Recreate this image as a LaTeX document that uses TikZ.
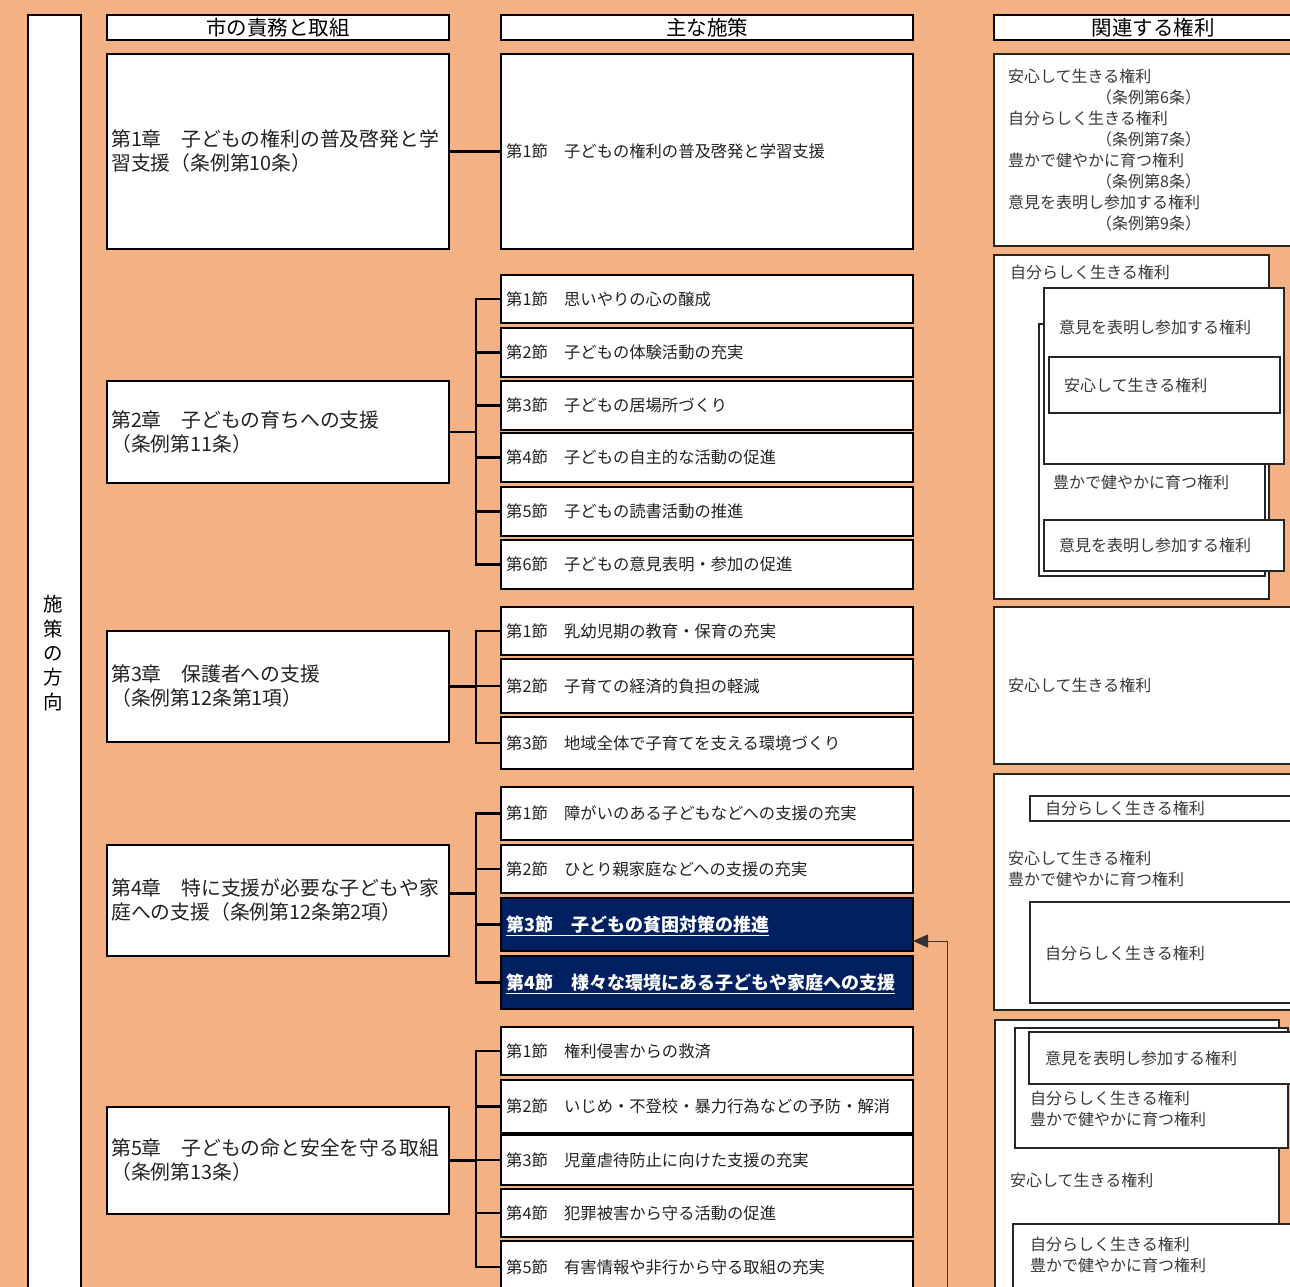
\documentclass[tikz,border=0pt]{standalone}
\usepackage{fontspec}
\setmainfont{Noto Sans CJK JP}
\usetikzlibrary{calc,arrows.meta}
\definecolor{bgc}{HTML}{F4B183}
\definecolor{navy}{HTML}{002060}
\definecolor{txt}{HTML}{222222}
\tikzset{
 mainbox/.style={draw=black, line width=2.4pt, fill=white, inner sep=0pt, outer sep=0pt},
 rbox/.style={draw=black!85, line width=1.3pt, fill=white, inner sep=0pt, outer sep=0pt},
 hibox/.style={draw=black, line width=2.4pt, fill=navy, inner sep=0pt, outer sep=0pt},
 seclbl/.style={anchor=west, inner sep=0pt, text=txt, font=\fontsize{16.3}{21}\selectfont},
 chlbl/.style={anchor=west, inner sep=0pt, text=txt, font=\fontsize{19.8}{24}\selectfont, align=left},
 hilbl/.style={anchor=west, inner sep=0pt, text=white, font=\bfseries\fontsize{18}{20}\selectfont},
 rlbl/.style={anchor=west, inner sep=0pt, text=txt!90, font=\fontsize{16}{21}\selectfont, align=left},
 headlbl/.style={inner sep=0pt, text=black, font=\fontsize{20.5}{24}\selectfont},
 vlbl/.style={inner sep=0pt, text=black, font=\fontsize{19.5}{24.3}\selectfont, align=center},
 conn/.style={draw=black, line width=2.4pt},
 arr/.style={draw=black!80, line width=1pt, -{Triangle[length=15pt,width=13pt]}},
}
\newcommand{\bx}[6]{\node[#6, anchor=north west, minimum width={(#4-#2)*1pt}, minimum height={(#5-#3)*1pt}] (#1) at (#2,#3) {};}
\begin{document}
\begin{tikzpicture}[x=1pt,y=-1pt]
\useasboundingbox (0,0) rectangle (1290,1287);
\fill[bgc] (0,0) rectangle (1290,1287);
\begin{scope}
\clip (0,0) rectangle (1290,1287);
% left direction box
\bx{dir}{28}{15}{81}{1310}{mainbox, line width=2pt}
\node[vlbl] (dirt) at (53,653) {施\\策\\の\\方\\向};
% headers
\bx{h1}{107}{15}{449}{40}{mainbox}
\node[headlbl] (h1t) at (h1) {市の責務と取組};
\bx{h2}{501}{15}{913}{40}{mainbox}
\node[headlbl] (h2t) at (h2) {主な施策};
\bx{h3}{994}{15}{1312}{40}{mainbox}
\node[headlbl] (h3t) at (h3) {関連する権利};
% chapters
\bx{c1}{107}{54}{449}{249}{mainbox}
\node[chlbl] (c1t) at ($(c1.west)+(4,0)$) {第1章　子どもの権利の普及啓発と学\\習支援（条例第10条）};
\bx{c2}{107}{381}{449}{483}{mainbox}
\node[chlbl] (c2t) at ($(c2.west)+(4,0)$) {第2章　子どもの育ちへの支援\\（条例第11条）};
\bx{c3}{107}{631}{449}{742}{mainbox}
\node[chlbl] (c3t) at ($(c3.west)+(4,0)$) {第3章　保護者への支援\\（条例第12条第1項）};
\bx{c4}{107}{845}{449}{956}{mainbox}
\node[chlbl] (c4t) at ($(c4.west)+(4,0)$) {第4章　特に支援が必要な子どもや家\\庭への支援（条例第12条第2項）};
\bx{c5}{107}{1107}{449}{1214}{mainbox}
\node[chlbl] (c5t) at ($(c5.west)+(4,0)$) {第5章　子どもの命と安全を守る取組\\（条例第13条）};
% sections
\bx{s11}{501}{54}{913}{249}{mainbox}
\node[seclbl] (s11t) at ($(s11.west)+(5,0)$) {第1節　子どもの権利の普及啓発と学習支援};
\bx{s21}{501}{275}{913}{323}{mainbox}
\node[seclbl] (s21t) at ($(s21.west)+(5,0)$) {第1節　思いやりの心の醸成};
\bx{s22}{501}{328}{913}{377}{mainbox}
\node[seclbl] (s22t) at ($(s22.west)+(5,0)$) {第2節　子どもの体験活動の充実};
\bx{s23}{501}{381}{913}{430}{mainbox}
\node[seclbl] (s23t) at ($(s23.west)+(5,0)$) {第3節　子どもの居場所づくり};
\bx{s24}{501}{433}{913}{482}{mainbox}
\node[seclbl] (s24t) at ($(s24.west)+(5,0)$) {第4節　子どもの自主的な活動の促進};
\bx{s25}{501}{487}{913}{536}{mainbox}
\node[seclbl] (s25t) at ($(s25.west)+(5,0)$) {第5節　子どもの読書活動の推進};
\bx{s26}{501}{540}{913}{589}{mainbox}
\node[seclbl] (s26t) at ($(s26.west)+(5,0)$) {第6節　子どもの意見表明・参加の促進};
\bx{s31}{501}{607}{913}{655}{mainbox}
\node[seclbl] (s31t) at ($(s31.west)+(5,0)$) {第1節　乳幼児期の教育・保育の充実};
\bx{s32}{501}{659}{913}{713}{mainbox}
\node[seclbl] (s32t) at ($(s32.west)+(5,0)$) {第2節　子育ての経済的負担の軽減};
\bx{s33}{501}{717}{913}{769}{mainbox}
\node[seclbl] (s33t) at ($(s33.west)+(5,0)$) {第3節　地域全体で子育てを支える環境づくり};
\bx{s41}{501}{787}{913}{840}{mainbox}
\node[seclbl] (s41t) at ($(s41.west)+(5,0)$) {第1節　障がいのある子どもなどへの支援の充実};
\bx{s42}{501}{845}{913}{893}{mainbox}
\node[seclbl] (s42t) at ($(s42.west)+(5,0)$) {第2節　ひとり親家庭などへの支援の充実};
\bx{s43}{501}{898}{913}{951}{hibox}
\node[hilbl] (s43t) at ($(s43.west)+(5,1.5)$) {\underline{第3節　子どもの貧困対策の推進}};
\bx{s44}{501}{956}{913}{1009}{hibox}
\node[hilbl] (s44t) at ($(s44.west)+(5,1.5)$) {\underline{第4節　様々な環境にある子どもや家庭への支援}};
\bx{s51}{501}{1027}{913}{1075}{mainbox}
\node[seclbl] (s51t) at ($(s51.west)+(5,0)$) {第1節　権利侵害からの救済};
\bx{s52}{501}{1080}{913}{1133}{mainbox}
\node[seclbl] (s52t) at ($(s52.west)+(5,0)$) {第2節　いじめ・不登校・暴力行為などの予防・解消};
\bx{s53}{501}{1135}{913}{1185}{mainbox}
\node[seclbl] (s53t) at ($(s53.west)+(5,0)$) {第3節　児童虐待防止に向けた支援の充実};
\bx{s54}{501}{1189}{913}{1237}{mainbox}
\node[seclbl] (s54t) at ($(s54.west)+(5,0)$) {第4節　犯罪被害から守る活動の促進};
\bx{s55}{501}{1241}{913}{1293}{mainbox}
\node[seclbl] (s55t) at ($(s55.west)+(5,0)$) {第5節　有害情報や非行から守る取組の充実};
% connectors
\draw[conn] (c1.east) -- (s11.west);
\foreach \s in {s21,s22,s23,s24,s25,s26} \draw[conn] (c2.east) -- ++(27,0) |- (\s.west);
\foreach \s in {s31,s32,s33} \draw[conn] (c3.east) -- ++(27,0) |- (\s.west);
\foreach \s in {s41,s42,s43,s44} \draw[conn] ($(c4.east)+(0,-7)$) -- ++(27,0) |- (\s.west);
\foreach \s in {s51,s52,s53,s54,s55} \draw[conn] (c5.east) -- ++(27,0) |- (\s.west);
% arrow
\coordinate (arrfoot) at (947,1300);
\draw[arr] (arrfoot) |- ($(s43.east)+(0,16.5)$);
% right column
\bx{r1}{994}{54}{1310}{246}{rbox}
\node[rlbl] (r1t) at (1008,150) {安心して生きる権利\\\hspace*{88pt}（条例第6条）\\自分らしく生きる権利\\\hspace*{88pt}（条例第7条）\\豊かで健やかに育つ権利\\\hspace*{88pt}（条例第8条）\\意見を表明し参加する権利\\\hspace*{88pt}（条例第9条）};
\bx{r2}{994}{255}{1269}{599}{rbox}
\node[rlbl] (r2t) at (1010,272) {自分らしく生きる権利};
\bx{r2a}{1039}{324}{1265}{576}{rbox}
\node[rlbl] (r2at) at (1053,482) {豊かで健やかに育つ権利};
\bx{r2b}{1044}{288}{1284}{464}{rbox}
\node[rlbl] (r2bt) at (1059,327) {意見を表明し参加する権利};
\bx{r2c}{1049}{357}{1280}{413}{rbox}
\node[rlbl] (r2ct) at (1064,385) {安心して生きる権利};
\bx{r2d}{1044}{520}{1284}{571}{rbox}
\node[rlbl] (r2dt) at (1059,545) {意見を表明し参加する権利};
\bx{r3}{994}{607}{1310}{764}{rbox}
\node[rlbl] (r3t) at (1008,685) {安心して生きる権利};
\bx{r4}{994}{774}{1310}{1010}{rbox}
\bx{r4a}{1030}{796}{1310}{821}{rbox}
\node[rlbl] (r4at) at (1045,808) {自分らしく生きる権利};
\node[rlbl] (r4t) at (1008,869) {安心して生きる権利\\豊かで健やかに育つ権利};
\bx{r4b}{1030}{902}{1310}{1003}{rbox}
\node[rlbl] (r4bt) at (1045,953) {自分らしく生きる権利};
\bx{r5}{995}{1020}{1279}{1310}{rbox}
\bx{r5e}{1015}{1028}{1288}{1148}{rbox}
\node[rlbl] (r5et) at (1030,1109) {自分らしく生きる権利\\豊かで健やかに育つ権利};
\bx{r5f}{1029}{1032}{1310}{1084}{rbox}
\node[rlbl] (r5ft) at (1045,1058) {意見を表明し参加する権利};
\node[rlbl] (r5t) at (1010,1180) {安心して生きる権利};
\bx{r5g}{1013}{1224}{1310}{1310}{rbox}
\node[rlbl] (r5gt) at (1030,1255) {自分らしく生きる権利\\豊かで健やかに育つ権利};
\end{scope}
\end{tikzpicture}
\end{document}
